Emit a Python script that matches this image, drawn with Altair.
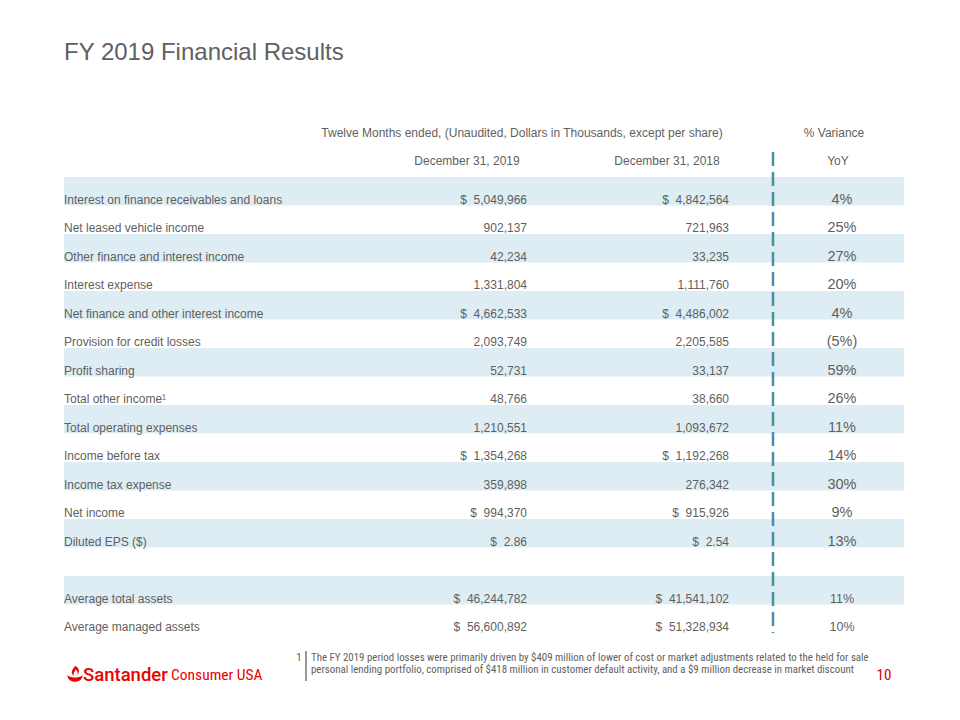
import altair as alt
import pandas as pd

# ---- data ----
labels = [
    "Interest on finance receivables and loans",
    "Net leased vehicle income",
    "Other finance and interest income",
    "Interest expense",
    "Net finance and other interest income",
    "Provision for credit losses",
    "Profit sharing",
    "Total other income\u00b9",
    "Total operating expenses",
    "Income before tax",
    "Income tax expense",
    "Net income",
    "Diluted EPS ($)",
    "",
    "Average total assets",
    "Average managed assets",
]
S = "$\u00a0\u00a0"
fy2019 = [
    S + "5,049,966", "902,137", "42,234", "1,331,804", S + "4,662,533",
    "2,093,749", "52,731", "48,766", "1,210,551", S + "1,354,268",
    "359,898", S + "994,370", S + "2.86", "", S + "46,244,782", S + "56,600,892",
]
fy2018 = [
    S + "4,842,564", "721,963", "33,235", "1,111,760", S + "4,486,002",
    "2,205,585", "33,137", "38,660", "1,093,672", S + "1,192,268",
    "276,342", S + "915,926", S + "2.54", "", S + "41,541,102", S + "51,328,934",
]
variance = [
    "4%", "25%", "27%", "20%", "4%", "(5%)", "59%", "26%", "11%", "14%",
    "30%", "9%", "13%", "", "11%", "10%",
]
header_top = ["Twelve Months ended, (Unaudited, Dollars in Thousands, except per share)", "% Variance"]
header_sub = ["December 31, 2019", "December 31, 2018", "YoY"]
title_text = "FY 2019 Financial Results"
footnote_lines = [
    "The FY 2019 period losses were primarily driven by $409 million of lower of cost or market adjustments related to the held for sale",
    "personal lending portfolio, comprised of $418 million in customer default activity,  and a $9 million decrease in market discount",
]
page_number = "10"

n = len(labels)
df = pd.DataFrame({
    "row": list(range(1, n + 1)),
    "label": labels,
    "v2019": fy2019,
    "v2018": fy2018,
    "var": variance,
})

GRAY = "#5f5f5f"
BAND = "#deedf3"
TEAL = "#4a90a4"
RED = "#ec0000"
FONT = "Liberation Sans"
NARROW = "Liberation Sans Narrow, Roboto Condensed, Liberation Sans"
FS = 12

yscale = alt.Scale(domain=[0, n], range=[169, 625])
base = alt.Chart(df)

bands = base.transform_filter("datum.row % 2 == 1").mark_rect(color=BAND).encode(
    x=alt.value(56), x2=alt.value(896),
    y=alt.Y("y0:Q", scale=yscale, axis=None), y2="row:Q",
).transform_calculate(y0="datum.row - 1")

txt = base.transform_calculate(ypos="datum.row - 0.2")
ypos = alt.Y("ypos:Q", scale=yscale, axis=None)

lab_layer = txt.mark_text(align="left", baseline="middle", font=FONT, fontSize=FS, color=GRAY).encode(
    x=alt.value(56), y=ypos, text="label:N")
c19 = txt.mark_text(align="right", baseline="middle", font=FONT, fontSize=FS, color=GRAY).encode(
    x=alt.value(519), y=ypos, text="v2019:N")
c18 = txt.mark_text(align="right", baseline="middle", font=FONT, fontSize=FS, color=GRAY).encode(
    x=alt.value(721), y=ypos, text="v2018:N")
cvar = txt.mark_text(align="center", baseline="middle", font=FONT, color=GRAY).encode(
    x=alt.value(834), y=ypos, text="var:N",
    size=alt.condition("datum.row >= 15", alt.value(12.5), alt.value(14.5)))

one = alt.Chart(pd.DataFrame({"k": [0]}))

dash = one.mark_rule(color=TEAL, strokeWidth=2.5, strokeDash=[14, 6]).encode(
    x=alt.value(765), y=alt.value(144), y2=alt.value(625))

title = one.mark_text(align="left", baseline="middle", font=FONT, fontSize=24, color="#5f6062").encode(
    x=alt.value(56), y=alt.value(45), text=alt.value(title_text))

def hdr(text, x, y):
    return one.mark_text(align="center", baseline="middle", font=FONT, fontSize=FS, color=GRAY).encode(
        x=alt.value(x), y=alt.value(y), text=alt.value(text))

h1 = hdr(header_top[0], 514, 125)
h2 = hdr(header_top[1], 826, 125)
s1 = hdr(header_sub[0], 459, 153)
s2 = hdr(header_sub[1], 659, 153)
s3 = hdr(header_sub[2], 830, 153)

fn_num = one.mark_text(align="center", baseline="middle", font=NARROW, fontSize=11, color=GRAY).encode(
    x=alt.value(291), y=alt.value(650), text=alt.value("1"))
fn_rule = one.mark_rule(color="#333333", strokeWidth=1).encode(
    x=alt.value(298), y=alt.value(643), y2=alt.value(673))
fn1 = one.mark_text(align="left", baseline="middle", font=NARROW, fontSize=10.9, color=GRAY).encode(
    x=alt.value(303), y=alt.value(650), text=alt.value(footnote_lines[0]))
fn2 = one.mark_text(align="left", baseline="middle", font=NARROW, fontSize=10.9, color=GRAY).encode(
    x=alt.value(303), y=alt.value(662), text=alt.value(footnote_lines[1]))

pnum = one.mark_text(align="center", baseline="middle", font=NARROW, fontSize=15, color="#d40000").encode(
    x=alt.value(876), y=alt.value(667), text=alt.value(page_number))

flame_path = ("M0.1,-1 C0.6,-0.6 0.6,-0.2 0.25,0.15 C0.45,-0.2 0.25,-0.45 0.05,-0.6 "
              "C0.1,-0.3 -0.35,-0.1 -0.1,0.25 C-0.5,0 -0.45,-0.45 -0.2,-0.65 "
              "C-0.2,-0.85 0,-0.95 0.1,-1 Z "
              "M-0.95,0.05 C-0.9,0.55 0.9,0.55 0.95,0.05 C0.95,0.7 0.5,0.95 0,0.95 C-0.5,0.95 -0.95,0.7 -0.95,0.05 Z")
flame = one.mark_point(shape=flame_path, filled=True, color=RED, size=260, strokeWidth=0, opacity=1).encode(
    x=alt.value(67), y=alt.value(666))
logo1 = one.mark_text(align="left", baseline="middle", font="Roboto", fontWeight=500, fontSize=18.5, color=RED).encode(
    x=alt.value(75), y=alt.value(667), text=alt.value("Santander"))
logo2 = one.mark_text(align="left", baseline="middle", font=NARROW, fontSize=15.5, color=RED).encode(
    x=alt.value(163), y=alt.value(667), text=alt.value("Consumer USA"))

chart = alt.layer(
    bands, dash, lab_layer, c19, c18, cvar,
    title, h1, h2, s1, s2, s3,
    fn_num, fn_rule, fn1, fn2, pnum, flame, logo1, logo2,
).properties(
    width=944, height=704, padding=0, autosize="none", background="white"
).configure_view(stroke=None)

chart.save("out.html", embed_options={"renderer": "svg", "actions": False})
